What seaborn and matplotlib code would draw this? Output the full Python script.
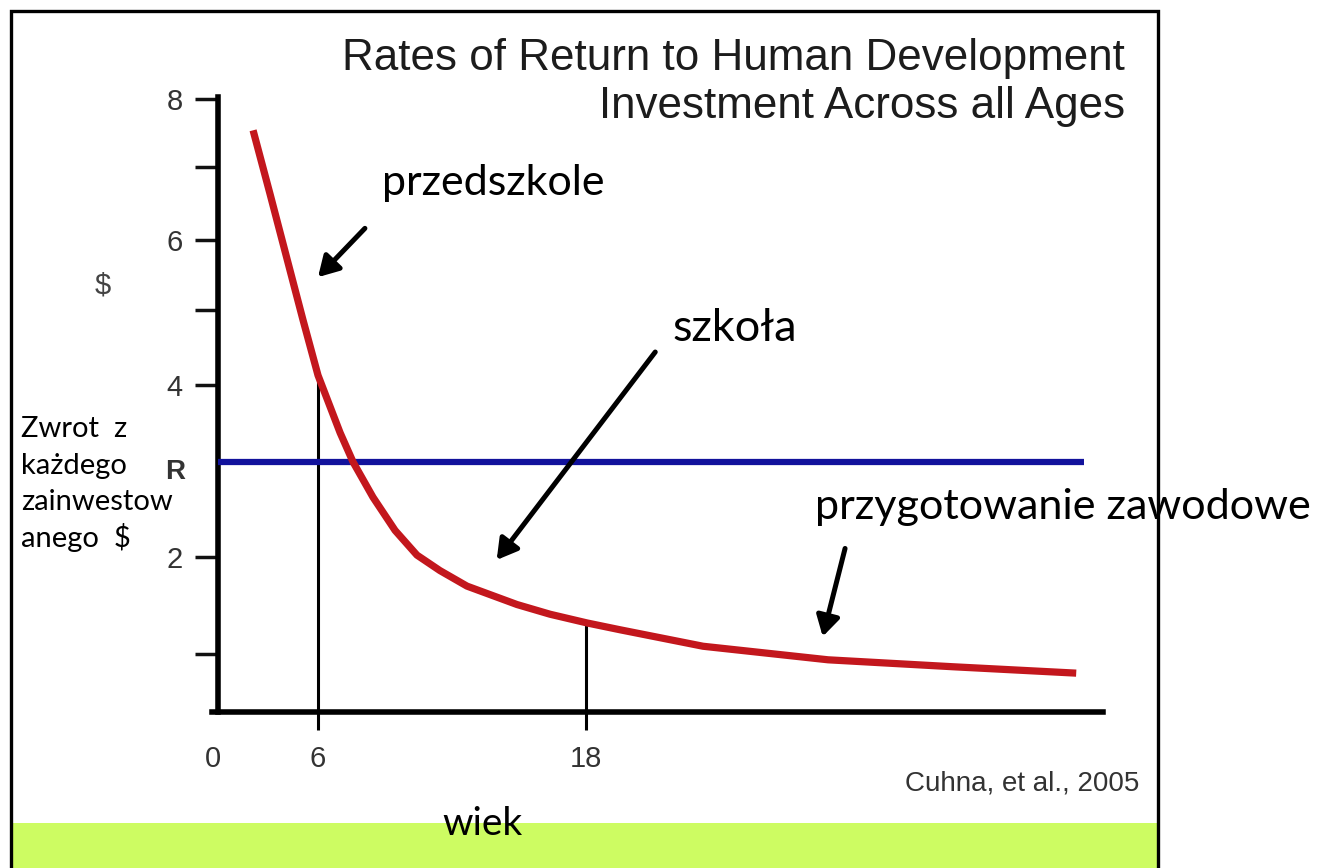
import numpy as np
import matplotlib
matplotlib.use("Agg")
import matplotlib.pyplot as plt
import seaborn as sns
from matplotlib.patches import Rectangle

# curve: age (years) vs return per invested $
age = [2.29, 3.26, 4.23, 5.14, 6.00, 6.99, 7.57, 8.46, 9.45, 10.43,
       11.46, 12.67, 14.91, 16.39, 18.05, 19.52, 23.24, 28.84, 34.44, 39.95]
ret = [7.54, 6.63, 5.73, 4.87, 4.13, 3.38, 3.00, 2.63, 2.28, 2.02,
       1.86, 1.70, 1.51, 1.41, 1.32, 1.25, 1.08, 0.90, 0.78, 0.67]
r_level = 3.0
r_span = [0.29, 40.3]
marked_ages = [6, 18]

x_ticks = [0, 6, 18]
x_labels = ["0", "6", "18"]
y_ticks = [1, 2, 4, 5, 6, 7, 8]
y_labels = ["", "2", "4", "", "6", "", "8"]

# the hand-drawn axes are not evenly spaced: knots -> drawn distance
x_knots = [-5, 0, 6, 18, 80]
x_draw = [-87.5, 0, 105, 373, 373 + 62 * 22.33]
y_knots = [-2, 0, 1, 2, 3, 4, 5, 6, 7, 8, 10]
y_draw = [-116, 0, 58, 155, 250, 327, 402, 472, 545, 613, 749]

W, H = 1326, 868
sns.set_style("white")
plt.rcParams["font.family"] = ["Liberation Sans", "DejaVu Sans"]

fig = plt.figure(figsize=(W / 100, H / 100), dpi=100)
fig.patch.set_facecolor("white")


def fx(x):
    return x / W


def fy(y):
    return 1 - y / H


def ptext(x, y, s, **kw):
    fig.text(fx(x), fy(y), s, **kw)


# green band at the bottom
fig.patches.append(Rectangle((fx(10), fy(868)), fx(1147), 45 / H, transform=fig.transFigure,
                             facecolor="#cdfc62", edgecolor="none", zorder=0))

ax = fig.add_axes([fx(212), fy(712), fx(891), 615 / H])
ax.set_facecolor("none")
ax.set_xscale("function", functions=(lambda v: np.interp(v, x_knots, x_draw),
                                     lambda p: np.interp(p, x_draw, x_knots)))
ax.set_yscale("function", functions=(lambda v: np.interp(v, y_knots, y_draw),
                                     lambda p: np.interp(p, y_draw, y_knots)))

sns.lineplot(x=age, y=ret, ax=ax, color="#c3171d", lw=5.2, solid_capstyle="butt",
             solid_joinstyle="round", zorder=4)
ax.hlines(r_level, r_span[0], r_span[1], color="#12129c", lw=4.5, zorder=3)
ax.vlines(marked_ages, 0, np.interp(marked_ages, age, ret), color="black", lw=2.2, zorder=2)

ax.set_xlim(-0.057, 41.15)
ax.set_ylim(0, 8.03)
for side in ["top", "right"]:
    ax.spines[side].set_visible(False)
ax.spines["left"].set_position(("data", 0.29))
for side in ["left", "bottom"]:
    ax.spines[side].set_linewidth(4)
    ax.spines[side].set_color("black")

ax.set_xticks(x_ticks, x_labels)
ax.set_yticks(y_ticks, y_labels)
ax.tick_params(axis="y", left=True, direction="out", length=16.5, width=2.5, color="#111111",
               pad=9, labelsize=21, labelcolor="#333333")
ax.tick_params(axis="x", bottom=True, direction="out", length=13, width=2.2, color="black",
               pad=11, labelsize=21, labelcolor="#333333")
ax.xaxis.get_major_ticks()[0].tick1line.set_visible(False)
ax.set_xlabel("")
ax.set_ylabel("")

arrow = dict(arrowstyle="-|>,head_length=0.55,head_width=0.32", lw=3.6, color="black",
             shrinkA=0, shrinkB=0, mutation_scale=22)
ax.annotate("", xy=(6.0, 5.47), xytext=(8.1, 6.16), arrowprops=arrow, annotation_clip=False)
ax.annotate("", xy=(14.0, 1.97), xytext=(21.1, 4.44), arrowprops=arrow, annotation_clip=False)
ax.annotate("", xy=(28.6, 1.18), xytext=(29.6, 2.09), arrowprops=arrow, annotation_clip=False)

# titles and labels
ptext(1125, 70, "Rates of Return to Human Development", ha="right", va="baseline",
      fontsize=31.7, color="#1c1c1c")
ptext(1125, 118, "Investment Across all Ages", ha="right", va="baseline",
      fontsize=31.7, color="#1c1c1c")
ptext(905, 790, "Cuhna, et al., 2005", ha="left", va="baseline", fontsize=20, color="#333333")
ptext(103, 285, "$", ha="center", va="center", fontsize=21, color="#444444")
ptext(175, 472, "R", ha="center", va="center", fontsize=20, fontweight="bold", color="#333333")

cal = ["Lato", "DejaVu Sans"]
ptext(382, 195, "przedszkole", ha="left", va="baseline", fontsize=31, family=cal, color="black")
ptext(672, 341, "szkoła", ha="left", va="baseline", fontsize=32.5, family=cal, color="black")
ptext(815, 519, "przygotowanie zawodowe", ha="left", va="baseline", fontsize=31.1, family=cal,
      color="black")
ptext(442, 835, "wiek", ha="left", va="baseline", fontsize=28, family=cal, color="black")
for i, line in enumerate(["Zwrot  z", "każdego", "zainwestow", "anego  $"]):
    ptext(21, 437 + 36.5 * i, line, ha="left", va="baseline", fontsize=21, family=cal,
          color="black")

# black frame round the slide
fig.patches.append(Rectangle((fx(11), fy(880)), fx(1147), 869 / H, transform=fig.transFigure,
                             facecolor="none", edgecolor="black", lw=2.4, zorder=10))

fig.savefig("out.png", dpi=100)
